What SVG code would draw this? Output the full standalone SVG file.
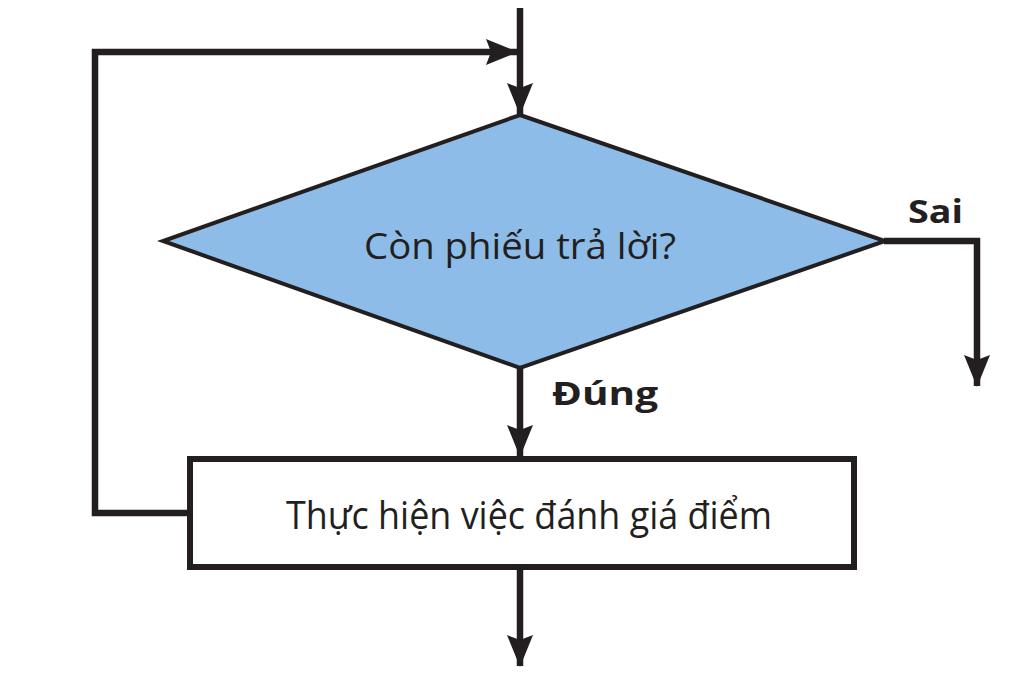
<svg xmlns="http://www.w3.org/2000/svg" width="1024" height="691" viewBox="0 0 1024 691">
<style>
.ln{fill:none;stroke:#231f20;stroke-width:6.5;stroke-linejoin:miter;marker-end:url(#ah)}
.t{font-family:"Open Sans","Noto Sans","Liberation Sans",sans-serif;fill:#231f20}
.lbl{font-family:"Open Sans","Noto Sans","Liberation Sans",sans-serif;font-weight:bold;fill:#231f20;font-size:32px}
</style>
<defs>
<marker id="ah" viewBox="0 0 32 26" refX="31" refY="13" markerWidth="32" markerHeight="26" orient="auto" markerUnits="userSpaceOnUse">
<path d="M0,0 L32,13 L0,26 L5,13 z" fill="#231f20"/>
</marker>
</defs>
<rect width="1024" height="691" fill="#ffffff"/>
<g id="connectors">
<path class="ln" d="M520,8 V114"/>
<path class="ln" d="M188,513 H95 V52 H517"/>
<path class="ln" d="M884,241 H977 V386"/>
<path class="ln" d="M520,368 V456"/>
<path class="ln" d="M520,569 V666"/>
</g>
<g id="decision">
<polygon points="520,115 885,241 520,368 163,241" fill="#8cbce7" stroke="#231f20" stroke-width="4"/>
<text class="t" x="520" y="259" font-size="36" text-anchor="middle" textLength="312" lengthAdjust="spacingAndGlyphs" fill="#1c2533">Còn phiếu trả lời?</text>
</g>
<g id="process">
<rect x="190" y="459" width="664" height="108" fill="#ffffff" stroke="#231f20" stroke-width="6"/>
<text class="t" x="286" y="529" font-size="38" textLength="486" lengthAdjust="spacingAndGlyphs">Thực hiện việc đánh giá điểm</text>
</g>
<g id="labels">
<text class="lbl" x="908" y="223" textLength="55" lengthAdjust="spacingAndGlyphs">Sai</text>
<text class="lbl" x="552" y="405" textLength="106" lengthAdjust="spacingAndGlyphs">Đúng</text>
</g>
</svg>
